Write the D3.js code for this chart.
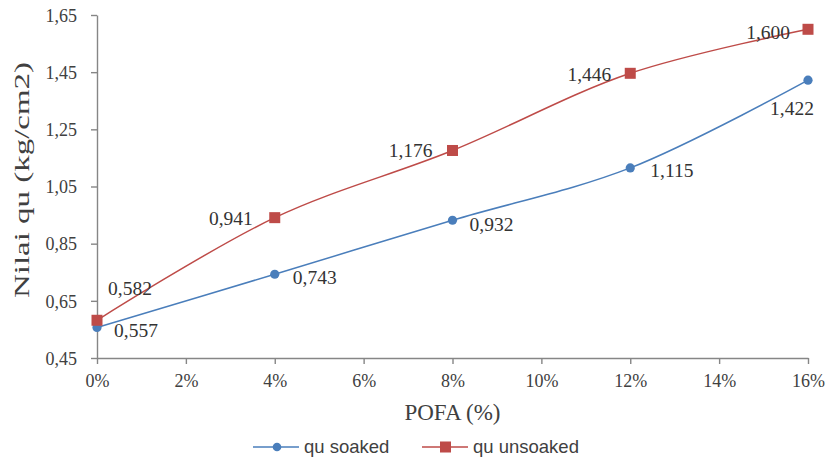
<!DOCTYPE html>
<html>
<head>
<meta charset="utf-8">
<script src="https://cdn.jsdelivr.net/npm/d3@7"></script>
<style>
  body { margin: 0; background: #fff; }
</style>
</head>
<body>
<div id="chart"></div>
<script>
// POFA content (%) and qu values
var pofa = [0, 4, 8, 12, 16];
var quSoaked = [0.557, 0.743, 0.932, 1.115, 1.422];
var quUnsoaked = [0.582, 0.941, 1.176, 1.446, 1.600];
var yTicks = [0.45, 0.65, 0.85, 1.05, 1.25, 1.45, 1.65];
var xTicks = [0, 2, 4, 6, 8, 10, 12, 14, 16];
var seriesNames = ["qu soaked", "qu unsoaked"];

var serif = "'Liberation Serif', 'Times New Roman', serif";
var sans = "'Liberation Sans', Arial, sans-serif";

var svgWidth = 828, svgHeight = 459;
var margin = { top: 15, right: 20, bottom: 101, left: 97 };
var chartWidth = svgWidth - margin.left - margin.right;
var chartHeight = svgHeight - margin.top - margin.bottom;

var svg = d3.select("#chart").append("svg")
  .attr("width", svgWidth)
  .attr("height", svgHeight);

var chartGroup = svg.append("g")
  .attr("transform", `translate(${margin.left}, ${margin.top})`);

var xScale = d3.scaleLinear().domain([0, 16]).range([0, chartWidth]);
var yScale = d3.scaleLinear().domain([0.45, 1.65]).range([chartHeight, 0]);

var comma2 = v => d3.format(".2f")(v).replace(".", ",");
var comma3 = v => d3.format(".3f")(v).replace(".", ",");

// axes
var leftAxis = d3.axisLeft(yScale).tickValues(yTicks).tickFormat(comma2).tickSize(6).tickSizeOuter(0);
var bottomAxis = d3.axisBottom(xScale).tickValues(xTicks).tickFormat(d => d + "%").tickSize(6).tickSizeOuter(0);

var gy = chartGroup.append("g").call(leftAxis);
var gx = chartGroup.append("g").attr("transform", `translate(0, ${chartHeight})`).call(bottomAxis);
[gx, gy].forEach(g => {
  g.attr("font-family", serif).attr("font-size", 18);
  g.select(".domain").attr("stroke", "#868686").attr("stroke-width", 1.4);
  g.selectAll(".tick line").attr("stroke", "#868686").attr("stroke-width", 1.4);
  g.selectAll("text").attr("fill", "#404040");
});
gy.selectAll("text").attr("x", -20).attr("dy", "0.35em");
gx.selectAll("text").attr("y", 29).attr("dy", 0);

// axis titles
svg.append("text")
  .attr("transform", "translate(29, 180) rotate(-90)")
  .attr("text-anchor", "middle")
  .attr("font-family", serif)
  .attr("font-size", 21)
  .attr("fill", "#404040")
  .attr("textLength", 236)
  .attr("lengthAdjust", "spacingAndGlyphs")
  .text("Nilai qu (kg/cm2)");

svg.append("text")
  .attr("x", margin.left + chartWidth / 2)
  .attr("y", 420)
  .attr("text-anchor", "middle")
  .attr("font-family", serif)
  .attr("font-size", 23)
  .attr("fill", "#404040")
  .text("POFA (%)");

// series
var blue = "#4A7EBB", red = "#BE4B48";
var line = d3.line()
  .x(d => xScale(d[0]))
  .y(d => yScale(d[1]))
  .curve(d3.curveCatmullRom.alpha(0.5));

var soaked = pofa.map((p, i) => [p, quSoaked[i]]);
var unsoaked = pofa.map((p, i) => [p, quUnsoaked[i]]);

chartGroup.append("path").datum(soaked)
  .attr("d", line).attr("fill", "none").attr("stroke", blue).attr("stroke-width", 1.5);
chartGroup.append("path").datum(unsoaked)
  .attr("d", line).attr("fill", "none").attr("stroke", red).attr("stroke-width", 1.5);

chartGroup.selectAll(".dot").data(soaked).enter().append("circle")
  .attr("cx", d => xScale(d[0])).attr("cy", d => yScale(d[1]))
  .attr("r", 4.6).attr("fill", blue);

chartGroup.selectAll(".sq").data(unsoaked).enter().append("rect")
  .attr("x", d => xScale(d[0]) - 5.5).attr("y", d => yScale(d[1]) - 5.5)
  .attr("width", 11).attr("height", 11).attr("fill", red);

// data labels: [dx, dy, anchor]
var soakedOffsets = [[17, 10, "start"], [18, 10, "start"], [17, 11, "start"], [20, 9, "start"], [-16, 35, "middle"]];
var unsoakedOffsets = [[11, -25, "start"], [-22, 7, "end"], [-20, 7, "end"], [-19, 8, "end"], [-18, 10, "end"]];

function addLabels(data, offsets) {
  chartGroup.append("g").selectAll("text").data(data).enter().append("text")
    .attr("x", (d, i) => xScale(d[0]) + offsets[i][0])
    .attr("y", (d, i) => yScale(d[1]) + offsets[i][1])
    .attr("text-anchor", (d, i) => offsets[i][2])
    .attr("font-family", serif)
    .attr("font-size", 19.5)
    .attr("fill", "#333")
    .text(d => comma3(d[1]));
}
addLabels(soaked, soakedOffsets);
addLabels(unsoaked, unsoakedOffsets);

// legend
var legend = svg.append("g").attr("transform", "translate(0, 447)");
var items = [
  { name: seriesNames[0], color: blue, x: 253, shape: "circle" },
  { name: seriesNames[1], color: red, x: 422, shape: "rect" }
];
items.forEach(it => {
  legend.append("line").attr("x1", it.x).attr("x2", it.x + 46).attr("y1", 0).attr("y2", 0)
    .attr("stroke", it.color).attr("stroke-width", 1.5);
  if (it.shape === "circle") {
    legend.append("circle").attr("cx", it.x + 24).attr("cy", 0).attr("r", 4.3).attr("fill", it.color);
  } else {
    legend.append("rect").attr("x", it.x + 18).attr("y", -5.5).attr("width", 11).attr("height", 11).attr("fill", it.color);
  }
  legend.append("text").attr("x", it.x + 51).attr("y", 0).attr("dy", "0.35em")
    .attr("font-family", sans)
    .attr("font-size", 18.5)
    .attr("fill", "#404040")
    .text(it.name);
});
</script>
</body>
</html>
